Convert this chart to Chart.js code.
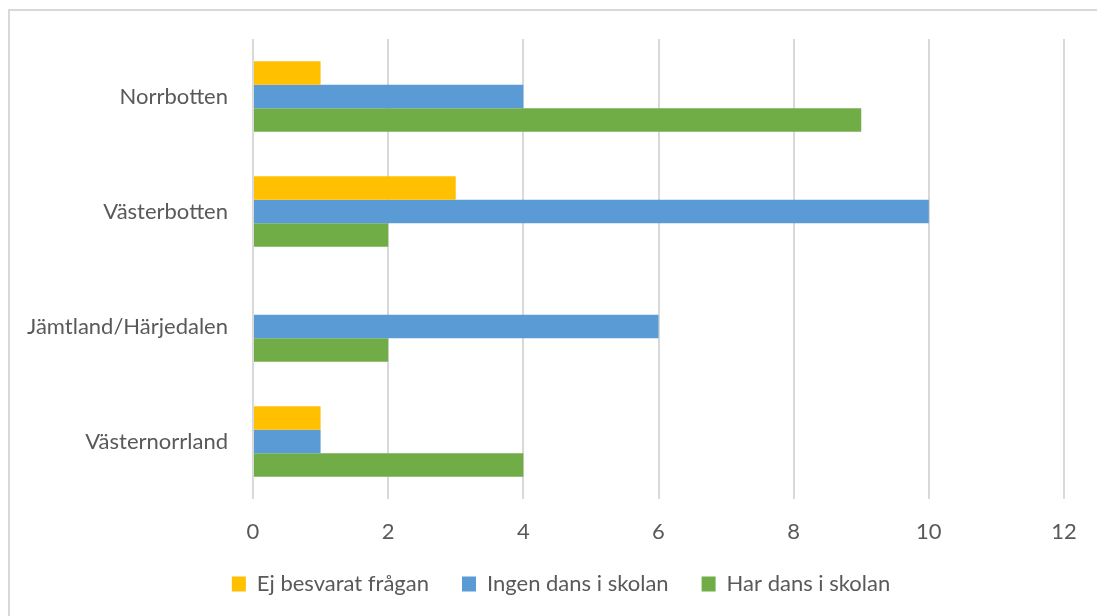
<!DOCTYPE html>
<html>
<head>
<meta charset="utf-8">
<script src="https://cdn.jsdelivr.net/npm/chart.js@4"></script>
<style>
  html, body { margin: 0; padding: 0; background: #fff; overflow: hidden; }
  #wrap { position: relative; width: 1097px; height: 616px; }
  #frame { position: absolute; left: 8px; top: 9px; width: 1200px; height: 700px; border: 2px solid #d9d9d9; box-sizing: border-box; }
  canvas { position: absolute; left: 0; top: 0; }
</style>
</head>
<body>
<div id="wrap">
  <div id="frame"></div>
  <canvas id="c" width="1097" height="616"></canvas>
</div>
<script>
const categories = ["Norrbotten", "Västerbotten", "Jämtland/Härjedalen", "Västernorrland"];
const seriesNames = ["Ej besvarat frågan", "Ingen dans i skolan", "Har dans i skolan"];
const ejBesvarat = [1, 3, 0, 1];
const ingenDans = [4, 10, 6, 1];
const harDans = [9, 2, 2, 4];
const seriesColors = ["#FFC000", "#5B9BD5", "#70AD47"];
const xMin = 0, xMax = 12, xStep = 2;

const FONT = "Lato";
const TXT = "#595959";

const shiftLegend = {
  id: "shiftLegend",
  afterLayout(chart) {
    const lg = chart.legend;
    if (lg) { lg.left += 29; lg.right += 29; }
  }
};

new Chart(document.getElementById("c"), {
  type: "bar",
  data: {
    labels: categories,
    datasets: [ejBesvarat, ingenDans, harDans].map((d, i) => ({
      label: seriesNames[i],
      data: d,
      backgroundColor: seriesColors[i],
      borderWidth: 0,
      categoryPercentage: 0.613,
      barPercentage: 1.0
    }))
  },
  plugins: [shiftLegend],
  options: {
    indexAxis: "y",
    responsive: false,
    animation: false,
    layout: { padding: { top: 39, right: 33, bottom: 11, left: 0 } },
    plugins: {
      tooltip: { enabled: false },
      legend: {
        position: "bottom",
        labels: {
          font: { family: FONT, size: 22 },
          color: TXT,
          boxWidth: 14,
          boxHeight: 15,
          padding: 33
        }
      }
    },
    scales: {
      x: {
        min: xMin, max: xMax,
        ticks: { stepSize: xStep, font: { family: FONT, size: 22 }, color: TXT, padding: 20 },
        grid: { color: "#d9d9d9", lineWidth: 2, drawTicks: false },
        border: { display: false },
        afterFit: (s) => { s.height = 41; }
      },
      y: {
        ticks: { font: { family: FONT, size: 22 }, color: TXT, padding: 25 },
        grid: { display: false, drawTicks: false },
        border: { display: false },
        afterFit: (s) => { s.width = 253; }
      }
    }
  }
});
</script>
</body>
</html>
